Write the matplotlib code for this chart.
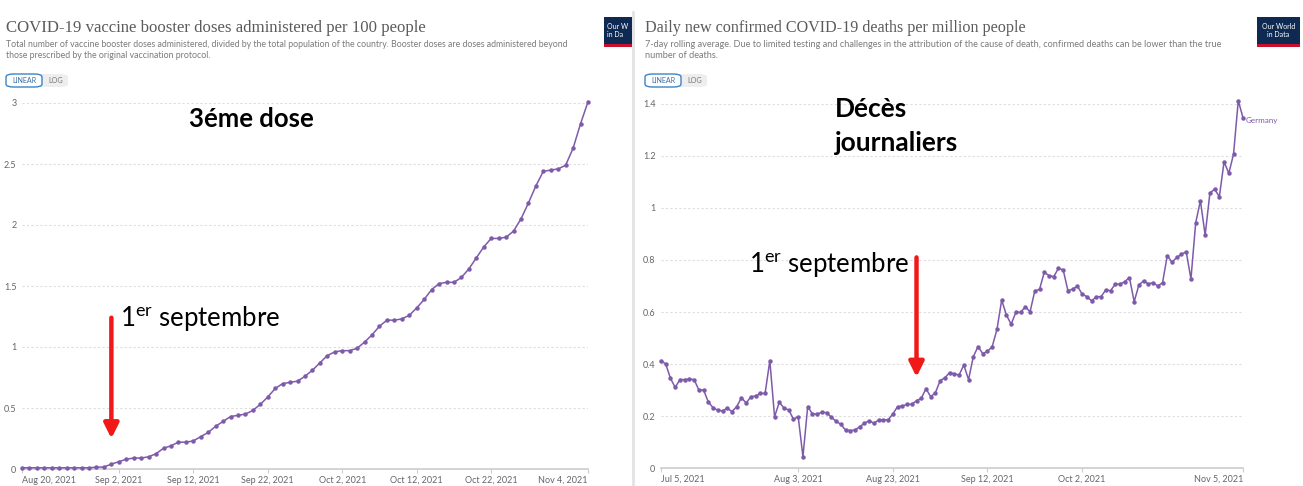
import numpy as np
import pandas as pd
import matplotlib
matplotlib.use('Agg')
import matplotlib.pyplot as plt
import matplotlib.dates as mdates
from matplotlib.patches import Rectangle, FancyBboxPatch
from matplotlib.ticker import FuncFormatter

plt.rcParams['font.family'] = ['Lato', 'DejaVu Sans']
plt.rcParams['mathtext.fontset'] = 'custom'
plt.rcParams['mathtext.rm'] = 'Lato'
plt.rcParams['mathtext.it'] = 'Lato:italic'
plt.rcParams['mathtext.bf'] = 'Lato:bold'

# Left chart: booster doses per 100 people, Germany, daily from Aug 20 2021
booster_start = '2021-08-20'
booster_per_100 = [
    0.01, 0.01, 0.01, 0.01, 0.01, 0.01, 0.01, 0.01, 0.01, 0.01,
    0.015, 0.016, 0.04, 0.06, 0.08, 0.09, 0.09, 0.10, 0.125, 0.17,
    0.19, 0.22, 0.22, 0.23, 0.265, 0.30, 0.35, 0.39, 0.43, 0.44,
    0.45, 0.48, 0.53, 0.59, 0.66, 0.70, 0.71, 0.72, 0.76, 0.81,
    0.87, 0.93, 0.96, 0.97, 0.97, 0.99, 1.04, 1.10, 1.17, 1.22,
    1.22, 1.23, 1.26, 1.32, 1.39, 1.47, 1.52, 1.53, 1.53, 1.57,
    1.64, 1.73, 1.82, 1.89, 1.89, 1.90, 1.95, 2.05, 2.18, 2.32,
    2.44, 2.45, 2.46, 2.49, 2.63, 2.83, 3.01,
]
booster_ticks = ['2021-08-20', '2021-09-02', '2021-09-12', '2021-09-22',
                 '2021-10-02', '2021-10-12', '2021-10-22', '2021-11-04']
booster_yticks = [0, 0.5, 1, 1.5, 2, 2.5, 3]

# Right chart: daily new confirmed deaths per million, 7-day avg, from Jul 5 2021
deaths_start = '2021-07-05'
deaths_per_million = [
    0.413, 0.40, 0.345, 0.31, 0.34, 0.34, 0.342, 0.34, 0.30, 0.30,
    0.254, 0.232, 0.222, 0.22, 0.23, 0.217, 0.236, 0.27, 0.25, 0.274,
    0.277, 0.287, 0.287, 0.413, 0.197, 0.253, 0.23, 0.223, 0.188, 0.197,
    0.043, 0.236, 0.208, 0.208, 0.214, 0.213, 0.195, 0.18, 0.168, 0.146,
    0.144, 0.146, 0.159, 0.172, 0.182, 0.172, 0.185, 0.185, 0.185, 0.208,
    0.236, 0.238, 0.245, 0.245, 0.259, 0.268, 0.305, 0.274, 0.29, 0.336,
    0.347, 0.367, 0.362, 0.358, 0.396, 0.34, 0.428, 0.467, 0.44, 0.449,
    0.467, 0.533, 0.646, 0.588, 0.553, 0.599, 0.599, 0.62, 0.601, 0.681,
    0.687, 0.753, 0.74, 0.736, 0.768, 0.762, 0.682, 0.688, 0.70, 0.669,
    0.659, 0.643, 0.659, 0.659, 0.685, 0.682, 0.707, 0.707, 0.717, 0.732,
    0.64, 0.704, 0.72, 0.708, 0.713, 0.70, 0.713, 0.817, 0.791, 0.81,
    0.822, 0.832, 0.727, 0.943, 1.028, 0.896, 1.057, 1.073, 1.043, 1.178,
    1.133, 1.207, 1.413, 1.347,
]
deaths_ticks = ['2021-07-05', '2021-08-03', '2021-08-23', '2021-09-12',
                '2021-10-02', '2021-11-05']
deaths_yticks = [0, 0.2, 0.4, 0.6, 0.8, 1, 1.2, 1.4]

W, H = 1303, 486
PURPLE = '#7e5aaa'
GREY_TXT = '#666666'

fig = plt.figure(figsize=(W / 100, H / 100), dpi=100)


def fx(px):
    return px / W


def fy(py):
    return 1 - py / H


def owid_panel(x0, x1, y_top, y_bot, start, values, ticks, yticks, title, sub,
               title_size, sub_size):
    ax = fig.add_axes([fx(x0), fy(y_bot), (x1 - x0) / W, (y_bot - y_top) / H])
    dates = pd.date_range(start, periods=len(values), freq='D')
    ax.plot(dates, values, color=PURPLE, lw=1.1, marker='o', ms=2.2,
            clip_on=False, zorder=3)
    ax.set_xlim(dates[0], dates[-1])
    ax.set_ylim(0, yticks[-1])
    ax.set_yticks(yticks)
    ax.yaxis.set_major_formatter(FuncFormatter(lambda v, p: f'{v:g}'))
    ax.set_xticks([pd.Timestamp(t) for t in ticks])
    ax.set_xticklabels([pd.Timestamp(t).strftime('%b %-d, %Y') for t in ticks])
    labels = ax.get_xticklabels()
    labels[0].set_ha('left')
    labels[-1].set_ha('right')
    for s in ['top', 'right', 'left']:
        ax.spines[s].set_visible(False)
    ax.spines['bottom'].set_color('#cccccc')
    ax.spines['bottom'].set_linewidth(1.2)
    ax.tick_params(axis='y', length=0, pad=4, labelsize=6.5, labelcolor=GREY_TXT)
    ax.tick_params(axis='x', length=3, color='#cccccc', pad=2, labelsize=6.5,
                   labelcolor=GREY_TXT)
    ax.grid(axis='y', color='#dddddd', lw=0.8, ls=(0, (2, 2)))
    ax.set_axisbelow(True)
    ax.annotate('Germany', xy=(dates[-1], values[-1]), xytext=(2, -2),
                textcoords='offset points', va='center', ha='left',
                fontsize=5.8, color=PURPLE)

    # header
    tx = x0 - 16
    fig.text(fx(tx), fy(28), title, family='Liberation Serif', fontsize=title_size,
             color='#5b5b5b', va='center')
    fig.text(fx(tx), fy(50), sub, fontsize=sub_size, color='#7a7a7a', va='center',
             linespacing=1.3)
    # LINEAR / LOG toggle
    fig.patches.append(FancyBboxPatch((fx(tx + 28), fy(87)), fx(34), 13 / H,
                                      boxstyle='round,pad=0,rounding_size=0.006',
                                      transform=fig.transFigure, fc='#eeeeee',
                                      ec='none'))
    fig.patches.append(FancyBboxPatch((fx(tx), fy(87)), fx(36), 13 / H,
                                      boxstyle='round,pad=0,rounding_size=0.006',
                                      transform=fig.transFigure, fc='white',
                                      ec='#3b83c8', lw=1))
    fig.text(fx(tx + 18), fy(80.5), 'LINEAR', fontsize=5.1, color='#3b6ea8',
             ha='center', va='center')
    fig.text(fx(tx + 50), fy(80.5), 'LOG', fontsize=5.1, color='#777777',
             ha='center', va='center')
    return ax, dates


ax1, d1 = owid_panel(
    22, 588, 103, 469, booster_start, booster_per_100, booster_ticks, booster_yticks,
    'COVID-19 vaccine booster doses administered per 100 people',
    'Total number of vaccine booster doses administered, divided by the total population '
    'of the country. Booster doses are doses administered beyond\n'
    'those prescribed by the original vaccination protocol.', 12.1, 6.3)

ax2, d2 = owid_panel(
    661, 1243, 104, 468, deaths_start, deaths_per_million, deaths_ticks, deaths_yticks,
    'Daily new confirmed COVID-19 deaths per million people',
    '7-day rolling average. Due to limited testing and challenges in the attribution of '
    'the cause of death, confirmed deaths can be lower than the true\n'
    'number of deaths.', 11.6, 6.6)

# OWID logos
for lx, lw_, txt in [(604, 28, 'Our W\nin Da'), (1257, 43, 'Our World\nin Data')]:
    lax = fig.add_axes([fx(lx), fy(47), lw_ / W, 30 / H])
    lax.set_xlim(0, 1)
    lax.set_ylim(0, 1)
    lax.axis('off')
    lax.add_patch(Rectangle((0, 0), 1, 1, fc='#0f2a52', ec='none'))
    lax.add_patch(Rectangle((0, 0), 1, 0.09, fc='#c8102e', ec='none'))
    lax.text(0.5 if lw_ > 30 else 0.1, 0.55, txt, color='white', fontsize=5,
             ha='center' if lw_ > 30 else 'left', va='center', linespacing=1.1)

# separator between the two screenshots
fig.add_artist(plt.Line2D([fx(633), fx(633)], [0, fy(12)], color='#e3e3e3', lw=2,
                          transform=fig.transFigure))

# annotations
arrow = dict(arrowstyle='-|>', color='#f01818', lw=3.2, mutation_scale=22,
             shrinkA=0, shrinkB=0)
ax1.text(0.405, 0.955, '3éme dose', transform=ax1.transAxes, fontsize=18.5,
         fontweight='bold', ha='center', va='center')
ax1.text(0.173, 0.41, r'1$^{\mathrm{er}}$ septembre', transform=ax1.transAxes,
         fontsize=18.5, ha='left', va='center')
sep1 = pd.Timestamp('2021-09-01')
ax1.annotate('', xy=(sep1, 0.25), xytext=(sep1, 1.24), arrowprops=arrow)

ax2.text(0.299, 0.985, 'Décès', transform=ax2.transAxes, fontsize=19,
         fontweight='bold', ha='left', va='center')
ax2.text(0.299, 0.893, 'journaliers', transform=ax2.transAxes, fontsize=19,
         fontweight='bold', ha='left', va='center')
ax2.text(0.151, 0.558, r'1$^{\mathrm{er}}$ septembre', transform=ax2.transAxes,
         fontsize=18.5, ha='left', va='center')
sep_r = pd.Timestamp('2021-08-28')
ax2.annotate('', xy=(sep_r, 0.35), xytext=(sep_r, 0.81), arrowprops=arrow)

fig.savefig('out.png', dpi=100)
